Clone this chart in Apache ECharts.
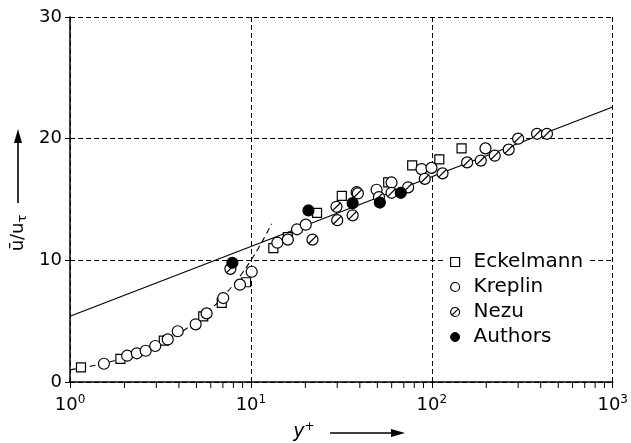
<!DOCTYPE html>
<html>
<head>
<meta charset="utf-8">
<script src="https://cdn.jsdelivr.net/npm/echarts@6/dist/echarts.min.js"></script>
<style>
  html, body { margin: 0; padding: 0; background: #fff; }
  #chart { width: 631px; height: 443px; }
</style>
</head>
<body>
<div id="chart"></div>
<script>
// y+ and u+ values
const eckelmannX = [1.15, 1.9, 3.3, 5.45, 6.9, 9.4, 13.3, 16, 23.2, 31.8, 57.4, 77.9, 110, 146];
const eckelmannU = [1.2, 1.9, 3.4, 5.4, 6.5, 8.2, 11.0, 11.9, 13.9, 15.3, 16.4, 17.8, 18.3, 19.2];

const kreplinX = [1.54, 2.07, 2.34, 2.62, 2.96, 3.47, 3.94, 4.95, 5.69, 7.03, 8.7, 10.1, 14, 16, 18, 20.1, 38.4, 49.5, 59.9, 87.7, 99.6, 198];
const kreplinU = [1.5, 2.16, 2.36, 2.57, 2.96, 3.5, 4.17, 4.74, 5.64, 6.9, 8.0, 9.06, 11.45, 11.7, 12.55, 12.93, 15.6, 15.8, 16.4, 17.5, 17.6, 19.2];

const nezuX = [7.7, 21.9, 29.7, 30, 36.5, 39, 51, 59.9, 74, 91.4, 114.6, 156.7, 186.5, 222.8, 266, 300, 381.6, 433];
const nezuU = [9.3, 11.7, 14.4, 13.3, 13.7, 15.5, 15.2, 15.55, 16.0, 16.7, 17.15, 18.05, 18.2, 18.6, 19.1, 20.0, 20.4, 20.4];

const authorsX = [7.9, 20.8, 36.5, 51.6, 67.4];
const authorsU = [9.8, 14.1, 14.7, 14.75, 15.55];

// log law (straight in log-x) and viscous sublayer u+ = y+
const logLawX = [1, 1000];
const logLawU = [5.4, 22.6];
const sublayerX = [1, 1.2, 1.5, 2, 2.5, 3, 4, 5, 6, 7, 8, 9, 10, 11, 12, 13];
const sublayerU = [1, 1.2, 1.5, 2, 2.5, 3, 4, 5, 6, 7, 8, 9, 10, 11, 12, 13];

const minorTicks = [2, 3, 4, 5, 6, 7, 8, 9, 20, 30, 40, 50, 60, 70, 80, 90, 200, 300, 400, 500, 600, 700, 800, 900];

const zip = (xs, ys) => xs.map((x, i) => [x, ys[i]]);

const FONT = 'DejaVu Sans';
const nezuPath = 'path://M0,10 A10,10 0 1,1 20,10 A10,10 0 1,1 0,10 Z M3.5,16.5 L16.5,3.5';

const chart = echarts.init(document.getElementById('chart'));

function scatter(name, xs, ys, symbol, size, fill) {
    return {
        name: name,
        type: 'scatter',
        data: zip(xs, ys),
        symbol: symbol,
        symbolSize: size,
        itemStyle: { color: fill, borderColor: '#000', borderWidth: 1.2, opacity: 1 },
        z: 5
    };
}

chart.setOption({
    animation: false,
    backgroundColor: '#fff',
    textStyle: { fontFamily: FONT, color: '#000' },
    grid: { left: 70, right: 18, top: 17, bottom: 61 },
    xAxis: {
        type: 'log',
        logBase: 10,
        min: 1,
        max: 1000,
        axisLine: { lineStyle: { color: '#000', width: 1.5 } },
        axisTick: { length: 6, lineStyle: { color: '#000', width: 1 } },
        splitLine: { show: true, lineStyle: { color: '#000', type: [5, 3], width: 1 } },
        axisLabel: {
            margin: 12,
            formatter: v => '{b|10}{s|' + Math.round(Math.log10(v)) + '}',
            rich: {
                b: { fontFamily: FONT, fontSize: 18, color: '#000', lineHeight: 22 },
                s: { fontFamily: FONT, fontSize: 12, color: '#000', lineHeight: 12, verticalAlign: 'top' }
            }
        }
    },
    yAxis: {
        type: 'value',
        min: 0,
        max: 30,
        interval: 10,
        axisLine: { show: true, lineStyle: { color: '#000', width: 1.5 } },
        axisTick: { show: true, length: 5, lineStyle: { color: '#000' } },
        splitLine: { show: true, lineStyle: { color: '#000', type: [5, 3], width: 1 } },
        axisLabel: { margin: 8, fontFamily: FONT, fontSize: 18, color: '#000' }
    },
    legend: {
        orient: 'vertical',
        left: 446,
        top: 250,
        padding: [2, 6, 2, 4],
        backgroundColor: '#fff',
        itemWidth: 9,
        itemHeight: 9,
        itemGap: 5,
        selectedMode: false,
        textStyle: { fontFamily: FONT, fontSize: 20, color: '#000', lineHeight: 20, padding: [0, 0, 0, 9] },
        data: [
            { name: 'Eckelmann', icon: 'rect', itemStyle: { color: '#fff', borderColor: '#000', borderWidth: 1.2, opacity: 1 } },
            { name: 'Kreplin', icon: 'circle', itemStyle: { color: '#fff', borderColor: '#000', borderWidth: 1.2, opacity: 1 } },
            { name: 'Nezu', icon: nezuPath, itemStyle: { color: '#fff', borderColor: '#000', borderWidth: 1.2, opacity: 1 } },
            { name: 'Authors', icon: 'circle', itemStyle: { color: '#000', borderColor: '#000', borderWidth: 1, opacity: 1 } }
        ]
    },
    graphic: [
        {
            type: 'text',
            x: 304, y: 432,
            style: {
                text: '{i|y}{p|+}',
                align: 'center', verticalAlign: 'middle',
                rich: {
                    i: { fontFamily: FONT, fontStyle: 'italic', fontSize: 19, lineHeight: 22 },
                    p: { fontFamily: FONT, fontSize: 12, lineHeight: 12, verticalAlign: 'top' }
                }
            }
        },
        { type: 'line', shape: { x1: 330, y1: 433, x2: 393, y2: 433 }, style: { stroke: '#000', lineWidth: 1.6 } },
        { type: 'polygon', shape: { points: [[391, 429], [405, 433], [391, 437]] }, style: { fill: '#000' } },
        {
            type: 'group',
            x: 18, y: 233,
            rotation: Math.PI / 2,
            children: [
                {
                    type: 'text',
                    x: 0, y: 0,
                    style: {
                        text: '{a|ū/u}{s|τ}',
                        align: 'center', verticalAlign: 'middle',
                        rich: {
                            a: { fontFamily: FONT, fontSize: 18, lineHeight: 22 },
                            s: { fontFamily: FONT, fontSize: 13, lineHeight: 13, verticalAlign: 'bottom' }
                        }
                    }
                },
                { type: 'line', shape: { x1: 30, y1: 0, x2: 92, y2: 0 }, style: { stroke: '#000', lineWidth: 1.6 } },
                { type: 'polygon', shape: { points: [[90, -4], [104, 0], [90, 4]] }, style: { fill: '#000' } }
            ]
        }
    ],
    series: [
        {
            name: 'log law',
            type: 'line',
            data: zip(logLawX, logLawU),
            showSymbol: false,
            lineStyle: { color: '#000', width: 1.2 },
            z: 3
        },
        {
            name: 'sublayer',
            type: 'line',
            data: zip(sublayerX, sublayerU),
            showSymbol: false,
            smooth: true,
            lineStyle: { color: '#000', width: 1.1, type: [6, 4] },
            z: 3
        },
        {
            name: 'minor ticks',
            type: 'custom',
            data: minorTicks.map(v => [v, 0]),
            clip: false,
            silent: true,
            renderItem: (params, api) => {
                const p = api.coord([api.value(0), 0]);
                return {
                    type: 'line',
                    shape: { x1: p[0], y1: p[1], x2: p[0], y2: p[1] + 6 },
                    style: { stroke: '#000', lineWidth: 1 }
                };
            }
        },
        scatter('Eckelmann', eckelmannX, eckelmannU, 'rect', 9, '#fff'),
        scatter('Kreplin', kreplinX, kreplinU, 'circle', 11, '#fff'),
        scatter('Nezu', nezuX, nezuU, nezuPath, 11, '#fff'),
        scatter('Authors', authorsX, authorsU, 'circle', 11, '#000')
    ]
});
</script>
</body>
</html>
